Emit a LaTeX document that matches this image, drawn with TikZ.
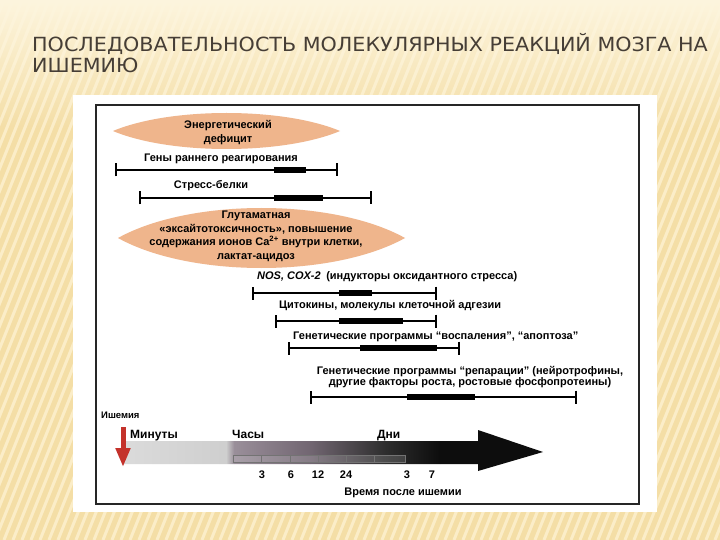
\documentclass[tikz,border=0pt]{standalone}
\usepackage{fontspec}
\setmainfont{Liberation Sans}
\newfontfamily\titlefont[FakeStretch=1.06]{DejaVu Sans}
\usetikzlibrary{arrows.meta,fadings}

\definecolor{paper}{HTML}{F4DEA6}
\definecolor{cream}{HTML}{FDF5DE}
\definecolor{stripe}{HTML}{FBEDC8}
\definecolor{lens}{HTML}{EFB58C}
\definecolor{titlegray}{HTML}{463E36}
\definecolor{ischred}{HTML}{C4322B}

\tikzset{
  lbl/.style={font=\bfseries\fontsize{11}{13}\selectfont, inner sep=0pt},
  small/.style={font=\bfseries\fontsize{9.5}{11}\selectfont, inner sep=0pt},
  phase/.style={font=\bfseries\fontsize{12}{14}\selectfont, inner sep=0pt, anchor=base west},
  bar/.style={line width=1.8pt, {Bar[width=13pt,line width=2pt]}-{Bar[width=13pt,line width=2pt]}},
  peak/.style={line width=6pt},
  hourbox/.style={draw=black!55, line width=0.6pt, fill=white, fill opacity=0.15},
}

\begin{document}
\begin{tikzpicture}[x=1pt, y=-1pt]
\useasboundingbox (0,0) rectangle (720,540);

% background of the slide
\fill[paper] (0,0) rectangle (720,540);
\foreach \x in {-230,-221,...,720}
  \draw[stripe, line width=3pt] (\x,540) -- (\x+216,0);
\fill[cream, path fading=south] (0,0) rectangle (720,130);

% title
\node[anchor=north west, align=left, text=titlegray, inner sep=0pt,
      font=\titlefont\fontsize{19.5}{21.5}\selectfont] (title) at (32,33)
  {ПОСЛЕДОВАТЕЛЬНОСТЬ МОЛЕКУЛЯРНЫХ РЕАКЦИЙ МОЗГА НА\\ИШЕМИЮ};

% white sheet with the scanned figure
\fill[white] (73,95) rectangle (657,512);
\draw[line width=1.1pt, black!85] (96,105) rectangle (639,504);

% lenses
\fill[lens] (113,131) .. controls (170,107) and (283,107) .. (340,131)
  .. controls (283,155) and (170,155) .. cycle;
\node[lbl, align=center] (energy) at (228,132.5) {Энергетический\\[1pt]дефицит};

\fill[lens] (118,238) .. controls (190,198) and (333,198) .. (405,238)
  .. controls (333,278) and (190,278) .. cycle;
\node[lbl, align=center] (glut) at (256,236.5)
  {Глутаматная\\[0.5pt]«эксайтотоксичность», повышение\\[0.5pt]содержания ионов Ca\textsuperscript{2+} внутри клетки,\\[0.5pt]лактат-ацидоз};

% time bars: name / y / start / peak start / peak end / end
\foreach \name/\y/\a/\b/\c/\d in {
    genes/170/115/274/306/338,
    stress/198/139/274/323/372,
    nos/293/252/339/372/437,
    cyto/321/275/339/403/437,
    apopt/348/288/360/437/460,
    repair/397/310/407/475/577} {
  \coordinate (\name-a) at (\a,\y);
  \coordinate (\name-b) at (\b,\y);
  \coordinate (\name-c) at (\c,\y);
  \coordinate (\name-d) at (\d,\y);
  \draw[bar] (\name-a) -- (\name-d);
  \draw[peak] (\name-b) -- (\name-c);
}

\node[lbl] (genes-t) at (221,159) {Гены раннего реагирования};
\node[lbl] (stress-t) at (211,186) {Стресс-белки};
\node[lbl, anchor=west] (nos-t) at (257,277)
  {\textit{NOS, COX-2}\enspace(индукторы оксидантного стресса)};
\node[lbl, anchor=west] (cyto-t) at (279,306) {Цитокины, молекулы клеточной адгезии};
\node[lbl, anchor=west] (apopt-t) at (293,337)
  {Генетические программы “воспаления”, “апоптоза”};
\node[lbl, align=center] (repair-t) at (470,377)
  {Генетические программы “репарации” (нейротрофины,\\[-1.5pt]другие факторы роста, ростовые фосфопротеины)};

% time axis
\begin{scope}
  \clip (122,441) -- (478,441) -- (478,430) -- (543,452) -- (478,471)
    -- (478,464) -- (122,464) -- cycle;
  \shade[left color=black!14, right color=black!19] (120,420) rectangle (226,480);
  \shade[left color=black!19, right color=violet!20!black!44] (226,420) rectangle (234,480);
  \shade[left color=violet!20!black!44, right color=violet!15!black!60] (234,420) rectangle (310,480);
  \shade[left color=violet!15!black!60, right color=black!82] (310,420) rectangle (385,480);
  \shade[left color=black!82, right color=black!95] (385,420) rectangle (440,480);
  \fill[black!95] (440,420) rectangle (550,480);
\end{scope}
\foreach \a/\b in {233/261,261/290,290/318,318/346,346/374,374/405}
  \draw[hourbox] (\a,455) rectangle (\b,462);

\coordinate (isch-top) at (123,427);
\coordinate (isch-tip) at (123,467);
\draw[ischred, line width=5pt, -{Triangle[length=19pt,width=14pt]}] (isch-top) -- (isch-tip);

\node[small, anchor=west] (isch) at (101,415) {Ишемия};
\node[phase] (minutes) at (130,438) {Минуты};
\node[phase] (hours) at (232,438) {Часы};
\node[phase] (days) at (377,438) {Дни};
\foreach \x/\t [count=\i] in {262/3,291/6,318/12,346/24,407/3,432/7}
  \node[lbl] (tick\i) at (\x,475) {\t};
\node[lbl] (axis-t) at (403,493) {Время после ишемии};
\end{tikzpicture}
\end{document}
